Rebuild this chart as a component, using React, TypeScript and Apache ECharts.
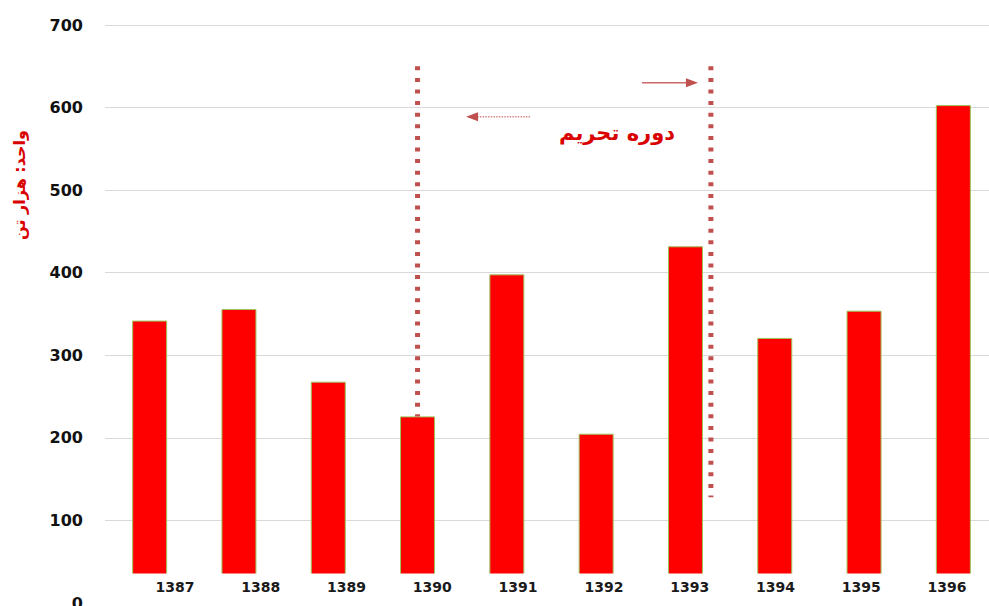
import React, { useEffect, useRef } from "react";
import * as echarts from "echarts";

const categories = ["1387", "1388", "1389", "1390", "1391", "1392", "1393", "1394", "1395", "1396"];
const values = [342, 356, 268, 226, 398, 205, 432, 321, 354, 603];
const yTicks = { min: 0, max: 700, interval: 100 };
const unitTitle = "واحد: هزار تن";
const sanctionLabel = "دوره تحریم";

const DOT_RED = "#c0504d";
const TEXT_RED = "#d90000";

export default function App() {
  const ref = useRef<HTMLDivElement>(null);

  useEffect(() => {
    document.body.style.margin = "0";
    const chart = echarts.init(ref.current!, undefined, { renderer: "svg" });
    const option: any = {
      animation: false,
      backgroundColor: "#ffffff",
      grid: [
        { left: 105, width: 893, top: 25, bottom: 3, outerBoundsMode: "none", containLabel: false },
        { left: 132, width: 858, top: 25, bottom: 29, outerBoundsMode: "none", containLabel: false },
      ],
      xAxis: [
        {
          type: "category",
          gridIndex: 0,
          data: categories,
          axisLine: { show: false },
          axisTick: { show: false },
          axisLabel: { show: false },
        },
        {
          type: "category",
          gridIndex: 1,
          data: categories,
          z: 60,
          axisLine: { show: false },
          axisTick: { show: false },
          axisLabel: {
            margin: 3,
            color: "#1a1a1a",
            fontFamily: "DejaVu Sans",
            fontWeight: "bold",
            fontSize: 14,
          },
        },
      ],
      yAxis: [
        {
          type: "value",
          gridIndex: 0,
          min: yTicks.min,
          max: yTicks.max,
          interval: yTicks.interval,
          axisLine: { show: false },
          axisTick: { show: false },
          axisLabel: {
            margin: 22,
            color: "#111111",
            fontFamily: "DejaVu Sans",
            fontWeight: "bold",
            fontSize: 16,
          },
          splitLine: { lineStyle: { color: "#d9d9d9", width: 1 } },
        },
        { type: "value", gridIndex: 1, show: false },
      ],
      series: [
        {
          type: "bar",
          xAxisIndex: 0,
          yAxisIndex: 0,
          data: values,
          barWidth: 35,
          itemStyle: { color: "#ff0000", borderColor: "#9cc45a", borderWidth: 1 },
        },
      ],
    };
    chart.setOption(option);

    const px = (catPos: number, val: number) => {
      const i0 = Math.floor(catPos);
      const f = catPos - i0;
      const a = chart.convertToPixel({ gridIndex: 0 }, [i0, val]) as number[];
      const b = chart.convertToPixel({ gridIndex: 0 }, [i0 + 1, val]) as number[];
      return [a[0] + (b[0] - a[0]) * f, a[1]];
    };

    const idx1390 = categories.indexOf("1390");
    const idx1393 = categories.indexOf("1393");
    const lTop = px(idx1390, 650);
    const lBot = px(idx1390, values[idx1390]);
    const rTop = px(idx1393 + 0.285, 650);
    const rBot = px(idx1393 + 0.285, 128);
    const raStart = px(5.513, 630);
    const raEnd = px(6.14, 630);
    const laStart = px(4.26, 589);
    const laEnd = px(3.543, 589);
    const txt = px(5.233, 569);
    const maskTop = px(0, 0);

    const dotted = { stroke: DOT_RED, lineWidth: 5, lineDash: [4, 7.6] };

    chart.setOption({
      graphic: [
        {
          type: "rect",
          z: 50,
          shape: { x: 100, y: maskTop[1] - 29.5, width: 900, height: 40 },
          style: { fill: "#ffffff" },
        },
        {
          type: "line",
          z: 10,
          shape: { x1: lTop[0], y1: lTop[1], x2: lBot[0], y2: lBot[1] },
          style: dotted,
        },
        {
          type: "line",
          z: 10,
          shape: { x1: rTop[0], y1: rTop[1], x2: rBot[0], y2: rBot[1] },
          style: dotted,
        },
        {
          type: "line",
          z: 10,
          shape: { x1: raStart[0], y1: raStart[1], x2: raEnd[0] - 10, y2: raEnd[1] },
          style: { stroke: "#c96a6a", lineWidth: 1.5 },
        },
        {
          type: "polygon",
          z: 10,
          shape: {
            points: [
              [raEnd[0], raEnd[1]],
              [raEnd[0] - 12, raEnd[1] - 4.5],
              [raEnd[0] - 12, raEnd[1] + 4.5],
            ],
          },
          style: { fill: DOT_RED },
        },
        {
          type: "line",
          z: 10,
          shape: { x1: laStart[0], y1: laStart[1], x2: laEnd[0] + 10, y2: laEnd[1] },
          style: { stroke: "#d98a8a", lineWidth: 1.5, lineDash: [1.5, 1.2] },
        },
        {
          type: "polygon",
          z: 10,
          shape: {
            points: [
              [laEnd[0], laEnd[1]],
              [laEnd[0] + 12, laEnd[1] - 4.5],
              [laEnd[0] + 12, laEnd[1] + 4.5],
            ],
          },
          style: { fill: DOT_RED },
        },
        {
          type: "text",
          z: 10,
          x: txt[0],
          y: txt[1],
          style: {
            text: sanctionLabel,
            fill: TEXT_RED,
            font: "bold 21px 'DejaVu Sans'",
            align: "center",
            verticalAlign: "middle",
          },
        },
        {
          type: "text",
          z: 10,
          x: 19,
          y: 185,
          rotation: Math.PI / 2,
          style: {
            text: unitTitle,
            fill: TEXT_RED,
            font: "bold 16px 'DejaVu Sans'",
            align: "center",
            verticalAlign: "middle",
          },
        },
      ],
    });

    return () => chart.dispose();
  }, []);

  return (
    <div
      ref={ref}
      style={{ position: "fixed", left: 0, top: 0, width: 989, height: 606 }}
    />
  );
}
